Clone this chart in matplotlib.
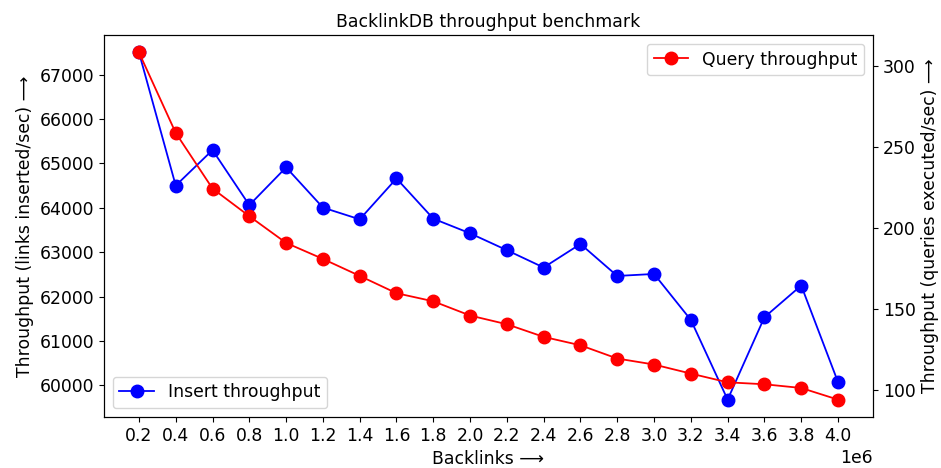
import numpy as np
import matplotlib
matplotlib.use("Agg")
import matplotlib.pyplot as plt

# backlink counts (x axis)
backlinks = [200000, 400000, 600000, 800000, 1000000, 1200000, 1400000,
             1600000, 1800000, 2000000, 2200000, 2400000, 2600000, 2800000,
             3000000, 3200000, 3400000, 3600000, 3800000, 4000000]

# links inserted / sec
insert_tp = [67500, 64500, 65300, 64060, 64910, 64005, 63740, 64660,
             63755, 63425, 63045, 62655, 63185, 62465, 62510, 61475,
             59680, 61535, 62250, 60075]

# queries executed / sec
query_tp = [308.5, 258.7, 224.3, 207.2, 190.7, 180.8, 170.3, 159.6,
            154.6, 145.8, 140.4, 132.6, 127.4, 119.2, 115.5, 109.9,
            104.5, 103.3, 101.0, 93.8]

plt.rcParams['font.size'] = 12.4

fig, ax = plt.subplots(figsize=(9.41, 4.68), dpi=100)
fig.subplots_adjust(left=0.1105, right=0.9277, top=0.9252, bottom=0.109)

ax.plot(backlinks, insert_tp, color='b', marker='o', markersize=9,
        linewidth=1.3, label='Insert throughput')
ax.set_xticks(backlinks)
ax.set_xlabel('Backlinks \u27f6')
ax.set_ylabel('Throughput (links inserted/sec) \u27f6')
ax.set_title('BacklinkDB throughput benchmark', fontsize=12.4)
ax.legend(loc='lower left')

ax2 = ax.twinx()
ax2.plot(backlinks, query_tp, color='r', marker='o', markersize=9,
         linewidth=1.3, label='Query throughput')
ax2.set_ylabel('Throughput (queries executed/sec) \u27f6')
ax2.legend(loc='upper right')

fig.savefig('out.png', dpi=100)
